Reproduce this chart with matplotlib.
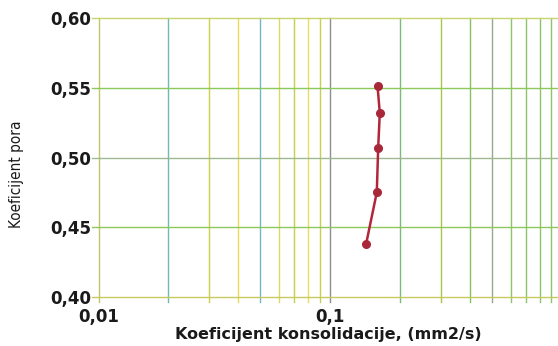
import numpy as np
import matplotlib
matplotlib.use('Agg')
from matplotlib import pyplot as plt
from matplotlib.ticker import FixedLocator, FixedFormatter, NullLocator

# data
cv = [0.160, 0.1636, 0.161, 0.1588, 0.1428]       # mm2/s
e_pora = [0.551, 0.532, 0.507, 0.475, 0.438]

x_ticks = [0.01, 0.1, 1.0]
x_tick_labels = ['0,01', '0,1', '1']
y_ticks = [0.40, 0.45, 0.50, 0.55, 0.60]
y_tick_labels = ['0,40', '0,45', '0,50', '0,55', '0,60']

x_grid = [0.01, 0.02, 0.03, 0.04, 0.05, 0.06, 0.07, 0.08, 0.09,
          0.1, 0.2, 0.3, 0.4, 0.5, 0.6, 0.7, 0.8, 0.9, 1.0]

# colours of the printed grid lines (scan has yellow / green / blue lines)
x_grid_colors = ['#c4c46a', '#6dbcae', '#c9d24a', '#e6dc55', '#74b4c8',
                 '#dcd866', '#c6d04c', '#e8df5a', '#c6cf52',
                 '#8e8e8e', '#79bb7a', '#a9c64c', '#86c060', '#98a88a',
                 '#8cc46c', '#8cc46c', '#8cc46c', '#8cc46c', '#8cc46c']
y_grid_colors = ['#c8c860', '#8cc85a', '#a0b890', '#8cc85a', '#c8d470']

W, H = 558, 346
fig = plt.figure(figsize=(W / 100, H / 100), dpi=100)
x0, x1 = 98.5, 562.0
y0, y1 = 18.0, 297.0
ax = fig.add_axes([x0 / W, 1 - y1 / H, (x1 - x0) / W, (y1 - y0) / H])

ax.set_xscale('log')
ax.set_xlim(0.01, 1.0)
ax.set_ylim(0.40, 0.60)
for s in ax.spines.values():
    s.set_visible(False)

for xv, c in zip(x_grid, x_grid_colors):
    ax.axvline(xv, ymin=-0.018, ymax=1, color=c, lw=1.0, clip_on=False, zorder=1)
for yv, c in zip(y_ticks, y_grid_colors):
    ax.axhline(yv, xmin=-0.014, xmax=1, color=c, lw=1.0, clip_on=False, zorder=1)

ax.plot(cv, e_pora, color='#b3263a', lw=1.8, marker='o', ms=5.5,
        markerfacecolor='#a8283a', markeredgecolor='#a8283a', zorder=3)

ax.xaxis.set_major_locator(FixedLocator(x_ticks))
ax.xaxis.set_major_formatter(FixedFormatter(x_tick_labels))
ax.xaxis.set_minor_locator(NullLocator())
ax.yaxis.set_major_locator(FixedLocator(y_ticks))
ax.yaxis.set_major_formatter(FixedFormatter(y_tick_labels))
ax.tick_params(axis='both', length=0, labelsize=12, colors='#1a1a1a')
ax.tick_params(axis='x', pad=8)
ax.tick_params(axis='y', pad=5)
for lab in ax.get_xticklabels() + ax.get_yticklabels():
    lab.set_fontweight('bold')

fig.text(328 / W, 1 - 335 / H, 'Koeficijent konsolidacije, (mm2/s)',
         ha='center', va='center', fontsize=11.5, fontweight='bold', color='#1a1a1a')
fig.text(17 / W, 1 - 174 / H, 'Koeficijent pora', rotation=90,
         ha='center', va='center', fontsize=11, color='#1a1a1a',
         family=['Liberation Sans Narrow', 'DejaVu Sans'], fontstretch='condensed')

fig.savefig('out.png', dpi=100)
